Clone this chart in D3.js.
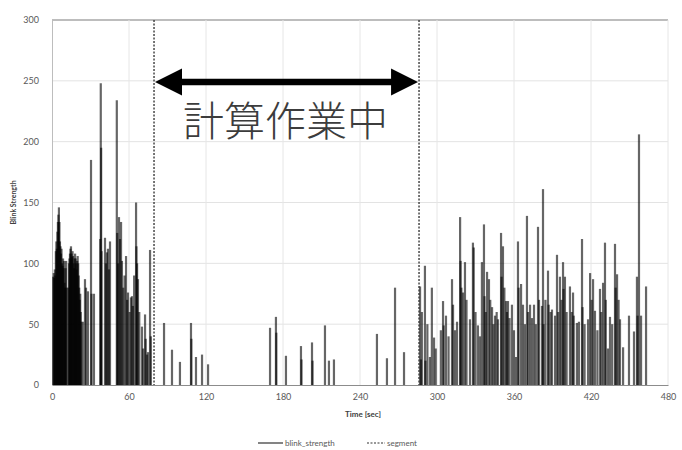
<!DOCTYPE html>
<html>
<head>
<meta charset="utf-8">
<script src="https://cdn.jsdelivr.net/npm/d3@7"></script>
<style>
  html, body { margin: 0; padding: 0; background: #fff; }
  svg { display: block; }
</style>
</head>
<body>
<svg id="chart" width="682" height="450"></svg>
<script>
// ---- data ----
const xTicks = [0, 60, 120, 180, 240, 300, 360, 420, 480];
const yTicks = [0, 50, 100, 150, 200, 250, 300];
const segmentTimes = [79.5, 286];
const annotationText = "計算作業中";
const legendLabels = ["blink_strength", "segment"];
const xLabel = "Time [sec]";
const yLabel = "Blink Strength";

// blink events: time (sec) and strength
const blinkTimes = [
  1.0,1.4,1.8,2.2,2.6,3.0,3.4,3.8,4.2,4.6,5.0,5.4,5.8,6.2,6.6,7.0,7.4,7.8,8.2,8.6,9.0,9.4,9.8,10.2,10.6,11.0,11.4,
  12.8,13.2,13.6,14.0,14.4,14.8,15.2,15.6,16.0,16.4,16.8,17.2,17.6,18.0,18.4,18.8,19.2,19.6,20.0,20.4,20.8,21.2,21.6,22.0,22.4,22.8,
  24.0,25.7,26.5,28.0,30.4,30.8,32.7,
  37.6,38.0,38.3,38.6,41.3,42.0,42.8,43.6,44.4,45.2,
  50.5,50.8,51.5,52.2,53.0,53.8,54.5,55.5,56.5,57.7,58.5,59.2,60.5,61.5,62.3,63.0,64.0,65.5,65.8,66.3,67.0,68.0,
  70.1,71.0,72.5,73.0,74.0,74.8,76.4,77.0,
  87.3,93.5,99.7,108.3,108.6,112.2,116.9,121.6,169.9,174.5,174.8,182.3,194.0,194.4,202.6,203.0,212.7,215.8,219.7,253.2,261.0,267.3,274.3,
  286.8,287.5,288.2,290.6,291.0,292.5,294.5,296.0,297.7,299.0,303.0,304.7,305.2,307.0,309.0,311.7,312.5,314.0,315.6,
  318.0,318.4,319.0,320.3,321.8,323.0,325.7,328.0,328.6,330.0,331.9,333.5,335.0,336.6,337.0,338.0,339.0,340.5,341.5,
  342.9,344.0,345.2,346.5,347.5,349.9,350.3,351.4,352.5,353.8,354.5,355.3,356.5,358.4,360.0,361.6,363.1,363.6,365.5,
  367.0,368.5,370.1,371.0,372.5,374.0,375.6,377.0,378.7,379.5,381.8,382.6,383.0,384.5,386.5,387.0,388.5,389.6,392.0,
  393.5,394.5,395.8,397.0,398.2,398.6,399.7,401.0,403.6,405.0,406.0,406.5,409.0,410.6,413.0,413.4,415.0,417.7,419.3,
  420.5,421.6,423.1,425.0,427.0,428.0,429.4,430.9,431.5,433.2,434.8,436.5,438.7,439.2,440.3,441.5,442.6,445.0,449.6,
  453.5,455.8,456.3,457.4,459.0,462.9
];
const blinkStrength = [
  89,92,88,95,90,110,118,112,126,134,140,146,134,118,114,108,112,100,98,104,96,102,84,80,96,102,80,
  80,100,104,108,112,114,108,105,110,106,100,96,104,108,104,100,95,102,106,100,90,80,70,75,60,52,
  52,87,80,77,185,75,75,
  120,248,195,110,121,100,109,112,95,118,
  234,125,100,138,120,134,102,80,90,106,70,76,60,72,73,65,90,150,114,100,87,60,
  48,30,58,38,25,27,111,40,
  51,29,19,51,38,23,25,17,47,56,43,24,32,21,35,20,49,20,21,42,22,80,27,
  81,21,60,98,20,50,23,80,39,30,45,69,49,57,40,87,66,45,52,
  138,102,80,76,101,70,54,117,113,60,49,40,101,132,73,60,93,87,70,
  64,50,57,60,54,125,89,114,80,69,60,69,55,66,45,23,118,80,83,
  66,50,139,60,66,55,66,50,130,70,65,161,50,70,94,66,60,62,57,
  107,60,89,70,101,79,89,60,81,60,76,57,51,52,120,64,50,54,92,
  70,87,61,45,79,60,84,117,70,30,56,50,116,80,91,70,54,31,57,
  44,89,57,206,57,81
];

// ---- layout ----
const svg = d3.select("#chart");
const plotLeft = 52, plotRight = 668, plotTop = 20, plotBottom = 385;
const x = d3.scaleLinear().domain([0, 480]).range([plotLeft, plotRight]);
const y = d3.scaleLinear().domain([0, 300]).range([plotBottom, plotTop]);
const font = "Lato, 'Open Sans', 'Liberation Sans', sans-serif";
const textColor = "#595959";

// gridlines
svg.append("g").selectAll("line").data(yTicks.filter(d => d > 0)).join("line")
  .attr("x1", plotLeft).attr("x2", plotRight)
  .attr("y1", d => y(d)).attr("y2", d => y(d))
  .attr("stroke", d => d === 300 ? "#bdbdbd" : "#e3e3e3")
  .attr("stroke-width", d => d === 300 ? 2 : 1);
svg.append("g").selectAll("line").data(xTicks.filter(d => d > 0)).join("line")
  .attr("x1", d => x(d)).attr("x2", d => x(d))
  .attr("y1", plotTop).attr("y2", plotBottom)
  .attr("stroke", "#e6e6e6").attr("stroke-width", 1);

// axes
const xAxis = d3.axisBottom(x).tickValues(xTicks).tickSize(0).tickPadding(9);
const gx = svg.append("g").attr("transform", `translate(0,${plotBottom})`).call(xAxis);
gx.select(".domain").attr("stroke", "#8c8c8c").attr("stroke-width", 1.2);
gx.selectAll("text").attr("fill", textColor).style("font-family", font).style("font-size", "9px");

const yAxis = d3.axisLeft(y).tickValues(yTicks).tickSize(0).tickPadding(13);
const gy = svg.append("g").attr("transform", `translate(${plotLeft},0)`).call(yAxis);
gy.select(".domain").attr("stroke", "#bdbdbd").attr("stroke-width", 1);
gy.selectAll("text").attr("fill", textColor).style("font-family", font).style("font-size", "9px");

// axis titles
svg.append("text").attr("x", (plotLeft + plotRight) / 2 + 3).attr("y", 417)
  .attr("text-anchor", "middle").attr("fill", "#404040")
  .style("font-family", font).style("font-size", "8px").style("font-weight", "bold")
  .text(xLabel);
svg.append("text").attr("transform", `translate(16,${(plotTop + plotBottom) / 2}) rotate(-90)`)
  .attr("text-anchor", "middle").attr("fill", "#404040")
  .style("font-family", font).style("font-size", "7px").style("font-weight", "bold")
  .text(yLabel);

// blink spikes
const blinks = blinkTimes.map((t, i) => ({ t, v: blinkStrength[i] }));
svg.append("g").selectAll("line").data(blinks).join("line")
  .attr("x1", d => x(d.t)).attr("x2", d => x(d.t))
  .attr("y1", y(0)).attr("y2", d => y(d.v))
  .attr("stroke", "#000").attr("stroke-opacity", 0.6).attr("stroke-width", 2.2);

// segment lines
svg.append("g").selectAll("line").data(segmentTimes).join("line")
  .attr("x1", d => x(d)).attr("x2", d => x(d))
  .attr("y1", plotTop).attr("y2", plotBottom)
  .attr("stroke", "#3a3a3a").attr("stroke-width", 1.4).attr("stroke-dasharray", "2,1.5");

// double-headed arrow
const ax1 = x(segmentTimes[0]) + 1, ax2 = x(segmentTimes[1]) - 1, ay = y(249);
const head = 27, hh = 13.5;
svg.append("line").attr("x1", ax1 + head - 2).attr("x2", ax2 - head + 2)
  .attr("y1", ay).attr("y2", ay).attr("stroke", "#000").attr("stroke-width", 6.5);
svg.append("path").attr("fill", "#000")
  .attr("d", `M${ax1},${ay} L${ax1 + head},${ay - hh} L${ax1 + head},${ay + hh} Z`);
svg.append("path").attr("fill", "#000")
  .attr("d", `M${ax2},${ay} L${ax2 - head},${ay - hh} L${ax2 - head},${ay + hh} Z`);

// annotation text
svg.append("text").attr("x", (x(segmentTimes[0]) + x(segmentTimes[1])) / 2 - 1).attr("y", 136)
  .attr("text-anchor", "middle").attr("fill", "#3c3c3c")
  .style("font-family", "'Noto Sans CJK JP', sans-serif").style("font-size", "41px")
  .style("font-weight", "300")
  .text(annotationText);

// legend
const lg = svg.append("g").attr("transform", "translate(258,446)");
lg.append("line").attr("x1", 0).attr("x2", 25).attr("y1", -3).attr("y2", -3)
  .attr("stroke", "#333").attr("stroke-width", 1.2);
lg.append("text").attr("x", 27).attr("y", 0).attr("fill", textColor)
  .style("font-family", font).style("font-size", "8px").text(legendLabels[0]);
lg.append("line").attr("x1", 109).attr("x2", 127).attr("y1", -3).attr("y2", -3)
  .attr("stroke", "#333").attr("stroke-width", 1.2).attr("stroke-dasharray", "2,1.5");
lg.append("text").attr("x", 129).attr("y", 0).attr("fill", textColor)
  .style("font-family", font).style("font-size", "8px").text(legendLabels[1]);
</script>
</body>
</html>
